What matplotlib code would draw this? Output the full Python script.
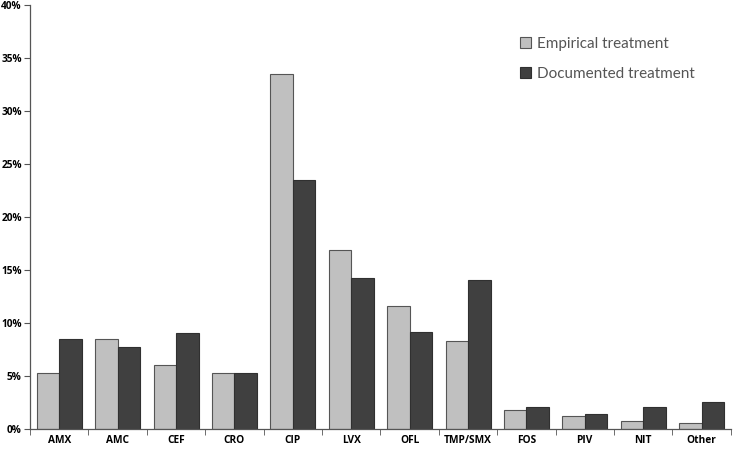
import numpy as np
import matplotlib
matplotlib.use("Agg")
import matplotlib.pyplot as plt
from matplotlib.ticker import PercentFormatter, FixedLocator

# Antibiotic categories and shares (%)
categories = ["AMX", "AMC", "CEF", "CRO", "CIP", "LVX", "OFL", "TMP/SMX",
              "FOS", "PIV", "NIT", "Other"]
empirical = [5.3, 8.5, 6.1, 5.3, 33.5, 16.9, 11.6, 8.3, 1.8, 1.3, 0.8, 0.6]
documented = [8.5, 7.8, 9.1, 5.3, 23.5, 14.3, 9.2, 14.1, 2.1, 1.4, 2.1, 2.6]

plt.rcParams['font.family'] = ['Open Sans', 'DejaVu Sans']

fig = plt.figure(figsize=(7.33, 4.5), dpi=100)
ax = fig.add_axes([0.041, 0.046, 0.956, 0.943])

x = np.arange(len(categories))
w = 0.385
ax.bar(x - w / 2, empirical, w, color='#c0c0c0', edgecolor='#555555',
       linewidth=0.8, label='Empirical treatment')
ax.bar(x + w / 2, documented, w, color='#404040', edgecolor='#303030',
       linewidth=0.8, label='Documented treatment')

ax.set_xlim(-0.5, len(categories) - 0.5)
ax.set_ylim(0, 40)
ax.set_yticks(np.arange(0, 41, 5))
ax.yaxis.set_major_formatter(PercentFormatter(decimals=0))

ax.set_xticks(x)
ax.set_xticklabels(categories)
ax.tick_params(axis='x', which='major', length=0, pad=4, labelsize=7.3)
ax.xaxis.set_minor_locator(FixedLocator(np.arange(-0.5, len(categories), 1)))
ax.tick_params(axis='x', which='minor', length=4, color='#555555')
ax.tick_params(axis='y', length=4, color='#555555', labelsize=7.3, pad=2)
for lab in ax.get_xticklabels() + ax.get_yticklabels():
    lab.set_fontweight('bold')

for s in ['top', 'right']:
    ax.spines[s].set_visible(False)
for s in ['left', 'bottom']:
    ax.spines[s].set_color('#555555')
    ax.spines[s].set_linewidth(0.9)

leg = ax.legend(loc='upper left', bbox_to_anchor=(0.68, 0.957), frameon=False,
                prop={'family': 'Lato', 'size': 11}, handlelength=0.7,
                handleheight=0.7, handletextpad=0.4, labelspacing=1.05)
for t in leg.get_texts():
    t.set_color('#555555')

fig.savefig("out.png", dpi=100)
